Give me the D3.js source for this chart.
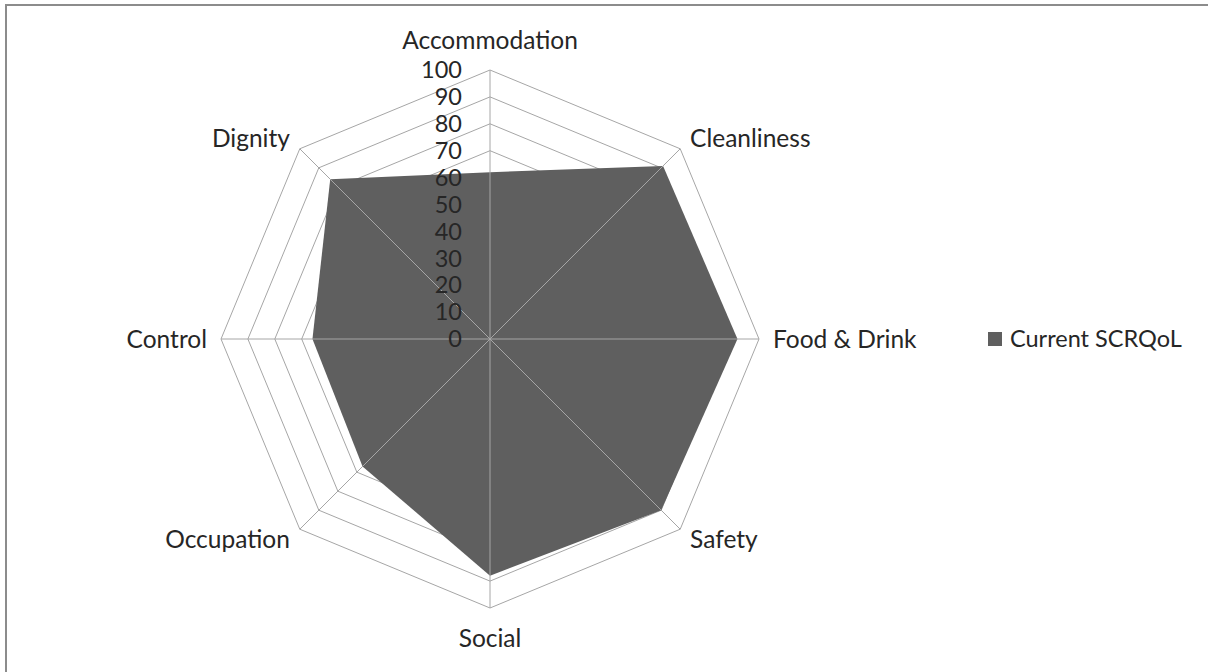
<!DOCTYPE html>
<html>
<head>
<meta charset="utf-8">
<script src="https://cdn.jsdelivr.net/npm/d3@7"></script>
<style>
  body { margin: 0; background: #fff; }
  text { font-family: Lato, "Liberation Sans", sans-serif; fill: #262626; }
</style>
</head>
<body>
<div id="chart"></div>
<script>
// data
const categories = ["Accommodation", "Cleanliness", "Food & Drink", "Safety", "Social", "Occupation", "Control", "Dignity"];
const scrqol = [62, 91, 92, 90, 88, 67, 66, 84];
const ticks = [0, 10, 20, 30, 40, 50, 60, 70, 80, 90, 100];
const seriesName = "Current SCRQoL";

const width = 1208, height = 672;
const cx = 490, cy = 339, radius = 269;

const svg = d3.select("#chart").append("svg")
  .attr("width", width)
  .attr("height", height);

// frame
svg.append("path")
  .attr("d", `M6,${height + 2}V5H${width + 2}`)
  .attr("fill", "none")
  .attr("stroke", "#8c8c8c")
  .attr("stroke-width", 2);

const r = d3.scaleLinear().domain([0, 100]).range([0, radius]);
const angle = d3.scalePoint().domain(categories).range([0, 2 * Math.PI * (categories.length - 1) / categories.length]);

const g = svg.append("g").attr("transform", `translate(${cx},${cy})`);

const pt = (cat, v) => [Math.sin(angle(cat)) * r(v), -Math.cos(angle(cat)) * r(v)];

// rings
g.selectAll(".ring")
  .data(ticks.slice(1))
  .join("polygon")
  .attr("class", "ring")
  .attr("points", t => categories.map(c => pt(c, t).join(",")).join(" "))
  .attr("fill", "none")
  .attr("stroke", "#a6a6a6")
  .attr("stroke-width", 1);

// the series
g.append("polygon")
  .attr("points", categories.map((c, i) => pt(c, scrqol[i]).join(",")).join(" "))
  .attr("fill", "#5f5f5f");

// spokes on top
g.selectAll(".spoke")
  .data(categories)
  .join("line")
  .attr("class", "spoke")
  .attr("x1", 0).attr("y1", 0)
  .attr("x2", c => pt(c, 100)[0])
  .attr("y2", c => pt(c, 100)[1])
  .attr("stroke", "#a6a6a6")
  .attr("stroke-width", 1);

// value labels
g.selectAll(".tick-label")
  .data(ticks)
  .join("text")
  .attr("class", "tick-label")
  .attr("x", -28)
  .attr("y", t => -r(t))
  .attr("dy", "0.35em")
  .attr("text-anchor", "end")
  .attr("font-size", 23.5)
  .text(t => t);

// category labels
const labelR = 283;
g.selectAll(".cat-label")
  .data(categories)
  .join("text")
  .attr("class", "cat-label")
  .attr("x", c => Math.sin(angle(c)) * labelR)
  .attr("y", c => -Math.cos(angle(c)) * labelR - (Math.abs(Math.sin(angle(c))) < 0.01 ? Math.cos(angle(c)) * 16 : 0))
  .attr("dy", "0.35em")
  .attr("text-anchor", c => {
    const s = Math.sin(angle(c));
    return Math.abs(s) < 0.01 ? "middle" : (s > 0 ? "start" : "end");
  })
  .attr("font-size", 24.5)
  .text(c => c);

// legend
const legend = svg.append("g").attr("transform", "translate(988,332)");
legend.append("rect")
  .attr("width", 14).attr("height", 14)
  .attr("fill", "#5f5f5f");
legend.append("text")
  .attr("x", 22).attr("y", 7)
  .attr("dy", "0.35em")
  .attr("font-size", 23.5)
  .text(seriesName);
</script>
</body>
</html>
